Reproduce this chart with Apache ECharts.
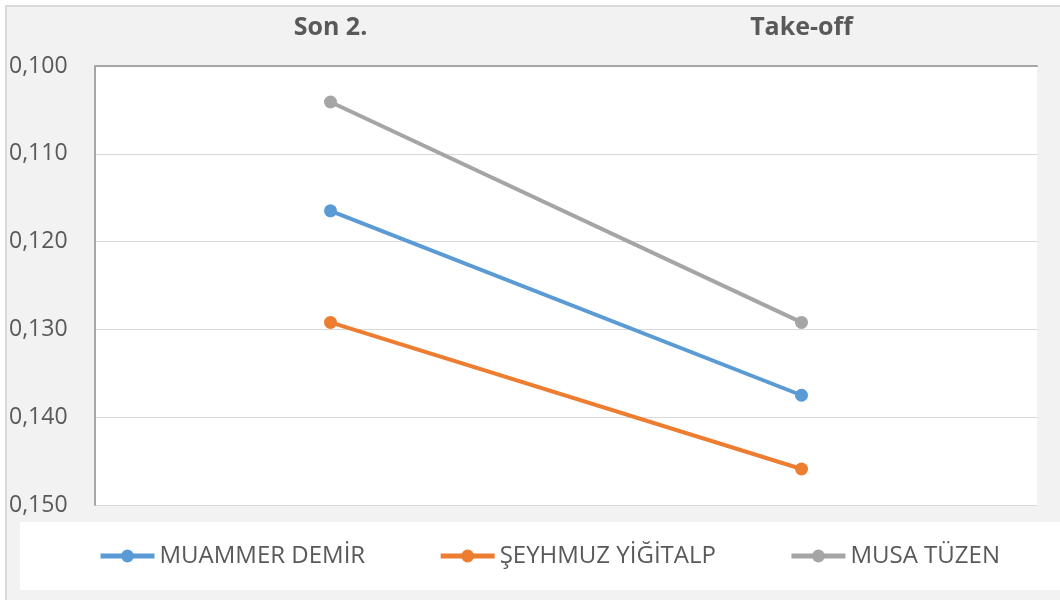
<!DOCTYPE html>
<html>
<head>
<meta charset="utf-8">
<script src="https://cdn.jsdelivr.net/npm/echarts@6/dist/echarts.min.js"></script>
<style>
  html, body { margin: 0; padding: 0; background: #ffffff; }
  #frame {
    position: absolute; left: 5px; top: 5px;
    width: 1055px; height: 595px;
    background: #f2f2f2;
    border-left: 2px solid #d9d9d9;
    border-top: 2px solid #d9d9d9;
    box-sizing: border-box;
  }
  #chart { position: absolute; left: 0; top: 0; width: 1060px; height: 600px; }
</style>
</head>
<body>
<div id="frame"></div>
<div id="chart"></div>
<script>
// kategoriler ve seriler
const categories = ['Son 2.', 'Take-off']
const seriesNames = ['MUAMMER DEMİR', 'ŞEYHMUZ YİĞİTALP', 'MUSA TÜZEN']
const muammerDemir = [0.1165, 0.1375]
const seyhmuzYigitalp = [0.1292, 0.1459]
const musaTuzen = [0.1041, 0.1292]
const colors = ['#5b9bd5', '#ed7d31', '#a5a5a5']

const font = '"Open Sans", "Liberation Sans", sans-serif'

const chart = echarts.init(document.getElementById('chart'))

const makeSeries = (name, data, color) => ({
  name,
  type: 'line',
  data,
  symbol: 'circle',
  symbolSize: 13,
  lineStyle: { width: 4, color },
  itemStyle: { color },
  animation: false
})

chart.setOption({
  backgroundColor: 'transparent',
  color: colors,
  textStyle: { fontFamily: font },
  graphic: [{
    type: 'rect',
    z: -1,
    shape: { x: 20, y: 522, width: 1040, height: 68 },
    style: { fill: '#ffffff' }
  }, {
    type: 'rect',
    z: -1,
    shape: { x: 95, y: 66, width: 942, height: 439 },
    style: { fill: '#ffffff' }
  }],
  grid: { left: 95, right: 23, top: 66, bottom: 95 },
  legend: {
    left: 98,
    top: 544,
    padding: 0,
    itemWidth: 54,
    itemHeight: 16,
    itemGap: 73,
    lineStyle: { width: 5 },
    textStyle: { fontFamily: font, fontSize: 24, color: '#595959' },
    data: seriesNames
  },
  xAxis: {
    type: 'category',
    position: 'top',
    data: categories,
    boundaryGap: true,
    axisLine: { lineStyle: { color: '#a6a6a6', width: 2 } },
    axisTick: { show: false },
    axisLabel: { fontFamily: font, fontSize: 25, fontWeight: 'bold', color: '#595959', margin: 26 },
    splitLine: { show: false }
  },
  yAxis: {
    type: 'value',
    inverse: true,
    min: 0.1,
    max: 0.15,
    interval: 0.01,
    axisLine: { show: true, lineStyle: { color: '#a6a6a6', width: 2 } },
    axisTick: { show: false },
    axisLabel: {
      fontFamily: font,
      fontSize: 23,
      color: '#595959',
      align: 'left',
      margin: 86,
      formatter: v => v.toFixed(3).replace('.', ',')
    },
    splitLine: { lineStyle: { color: '#d9d9d9', width: 1 } }
  },
  series: [
    makeSeries(seriesNames[0], muammerDemir, colors[0]),
    makeSeries(seriesNames[1], seyhmuzYigitalp, colors[1]),
    makeSeries(seriesNames[2], musaTuzen, colors[2])
  ]
})
</script>
</body>
</html>
